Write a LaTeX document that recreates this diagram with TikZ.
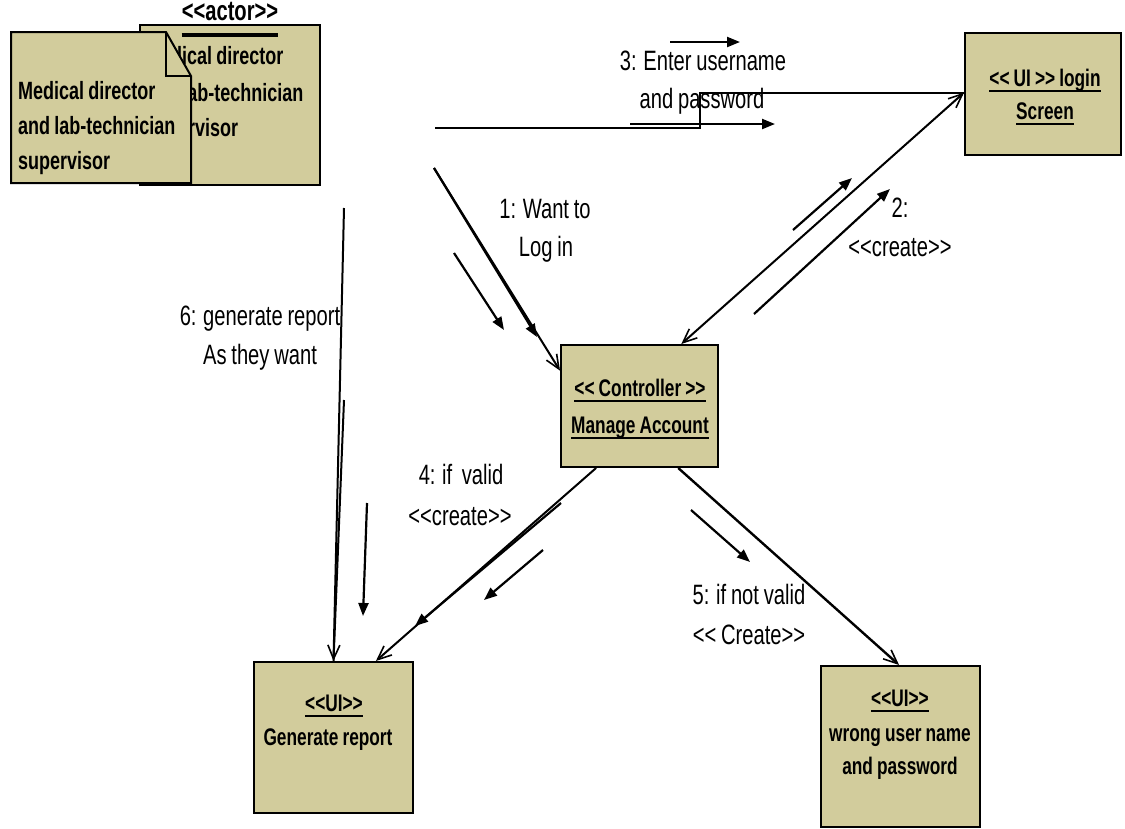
\documentclass[tikz,border=0pt]{standalone}
\usepackage{fontspec}
\setmainfont{Liberation Sans}
\newfontfamily\lblf[FakeStretch=0.72,WordSpace=0.85]{Liberation Sans}
\usetikzlibrary{arrows.meta}
\definecolor{khaki}{RGB}{210,204,156}
\newcommand\LL{<\kern0pt<}
\newcommand\GG{>\kern0pt>}
\newcommand\ulx[1]{\setbox0\hbox{#1}\vtop{\copy0\kern-\dp0\kern3pt\hrule height 2.6pt}}
\begin{document}
\begin{tikzpicture}[x=1pt,y=-1pt,
  box/.style={draw=black, line width=2pt, fill=khaki, inner sep=0pt},
  lbl/.style={font=\lblf\fontsize{28}{34}\selectfont, inner sep=0pt, text height=20pt, text depth=6pt},
  btx/.style={font=\lblf\bfseries\fontsize{24}{30}\selectfont, inner sep=0pt, text height=18pt, text depth=5pt},
  atx/.style={font=\lblf\bfseries\fontsize{25}{30}\selectfont, inner sep=0pt, text height=18pt, text depth=5pt, anchor=west},
  tip/.style={-{Straight Barb[length=14pt,width=12pt,line width=1.6pt]}},
  conn/.style={line width=2pt, tip},
  larr/.style={line width=2.2pt, -{Triangle[length=13pt,width=10pt]}}]
\fill[white] (0,0) rectangle (1125,828);
\useasboundingbox (0,0) rectangle (1125,828);

% ---------- boxes ----------
\node[box, minimum width=180pt, minimum height=160pt] (actor) at (230,105) {};
\node[box, minimum width=156pt, minimum height=122pt] (login) at (1043,94) {};
\node[box, minimum width=157pt, minimum height=122pt] (ctrl) at (639.5,406) {};
\node[box, minimum width=159pt, minimum height=151pt] (gen) at (333.5,737.5) {};
\node[box, minimum width=159pt, minimum height=161pt] (wrong) at (900.5,746.5) {};

% ---------- actor ----------
\node[atx, font=\lblf\bfseries\fontsize{28}{30}\selectfont, anchor=center] (st) at (230,14) {\LL actor\GG};
\coordinate (ul) at (0,35);
\draw[line width=4pt] (st.west |- ul) -- (st.east |- ul);
\node[atx] (ab1) at (146,58) {Medical director};
\node[atx] (ab2) at (146,95) {and lab-technician};
\node[atx] (ab3) at (146,130) {supervisor};
\filldraw[box] (11,32) -- (166,32) -- (191,76) -- (191,183) -- (11,183) -- cycle;
\draw[line width=2pt] (166,32) -- (166,76) -- (191,76);
\node[atx] (af1) at (18,93) {Medical director};
\node[atx] (af2) at (18,128) {and lab-technician};
\node[atx] (af3) at (18,163) {supervisor};

% ---------- box texts ----------
\node[btx] (lg1) at (1045,80) {\ulx{\LL\ UI \GG\ login}};
\node[btx] (lg2) at (1045,113) {\ulx{Screen}};
\node[btx] (ct1) at (640,390) {\ulx{\LL\ Controller \GG}};
\node[btx] (ct2) at (640,427) {\ulx{Manage Account}};
\node[btx] (gn1) at (334,705) {\ulx{\LL UI\GG}};
\node[btx] (gn2) at (328,739) {Generate report};
\node[btx] (wr1) at (900,700) {\ulx{\LL UI\GG}};
\node[btx] (wr2) at (900,735) {wrong user name};
\node[btx] (wr3) at (900,768) {and password};

% ---------- labels ----------
\node[lbl] (l3a) at (703,63) {3: Enter username};
\node[lbl] (l3b) at (702,101) {and password};
\node[lbl] (l1a) at (545,211) {1: Want to};
\node[lbl] (l1b) at (546,249) {Log in};
\node[lbl] (l2a) at (900,210) {2:};
\node[lbl] (l2b) at (900,249) {\LL create\GG};
\node[lbl] (l6a) at (260,318) {6: generate report};
\node[lbl] (l6b) at (260,357) {As they want};
\node[lbl] (l4a) at (461,477) {4: if\ \ valid};
\node[lbl] (l4b) at (460,518) {\LL create\GG};
\node[lbl] (l5a) at (749,597) {5: if not valid};
\node[lbl] (l5b) at (749,637) {\LL\ Create\GG};

% ---------- connectors ----------
\coordinate (p1) at (434,168);
\coordinate (q1) at (537,337);
\draw[conn] (p1) -- (ctrl.156.6);
\draw[larr] (p1) -- (q1);

\draw[line width=2pt, {Straight Barb[length=14pt,width=12pt,line width=1.6pt]}-{Straight Barb[length=14pt,width=12pt,line width=1.6pt]}] (ctrl.56.4) -- (login.179.3);

\coordinate (p3) at (435,128);
\coordinate (e3) at (700,128);
\draw[line width=2.2pt] (p3) -- (e3) |- (login.179.3);

\coordinate (p4) at (561,503);
\coordinate (q4) at (415,626);
\draw[conn] (ctrl.235.8) -- (gen.61.2);
\draw[larr] (p4) -- (q4);

\draw[conn, line width=2.4pt] (ctrl.302.3) -- (wrong.91.1);

\coordinate (p6) at (344,208);
\coordinate (q6) at (344,400);
\draw[conn] (p6) -- (gen.90.4);
\draw[line width=2pt] (q6) -- (gen.90.4);

% ---------- label arrows ----------
\draw[larr] (454,253) -- (504,330);
\draw[larr] (793,230) -- (852,178);
\draw[larr] (754,314) -- (890,189);
\draw[larr] (670,42) -- (740,42);
\draw[larr] (630,124) -- (775,124);
\draw[larr] (543,550) -- (484,600);
\draw[larr] (691,510) -- (750,562);
\draw[larr] (367,503) -- (363,616);
\end{tikzpicture}
\end{document}
